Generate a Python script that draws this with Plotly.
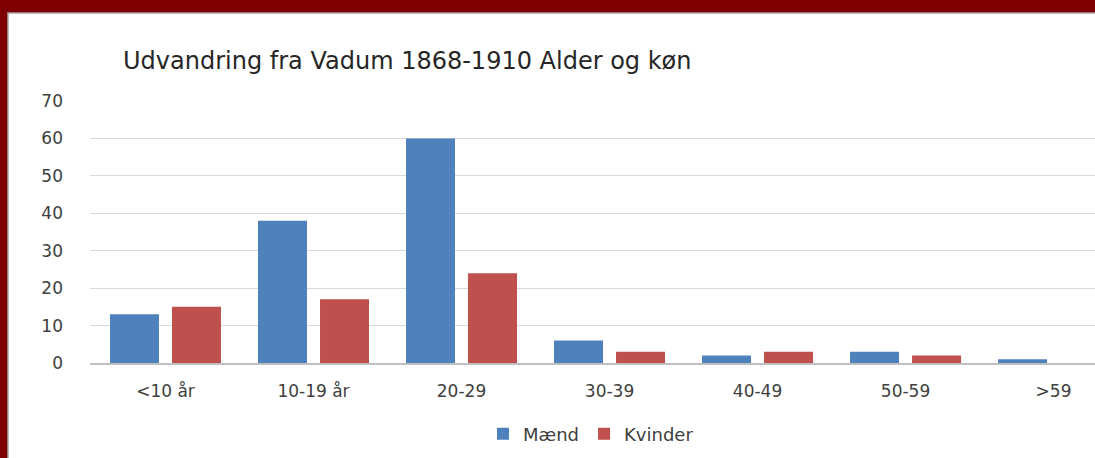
import plotly.graph_objects as go

categories = ["<10 år", "10-19 år", "20-29", "30-39", "40-49", "50-59", ">59"]
maend = [13, 38, 60, 6, 2, 3, 1]
kvinder = [15, 17, 24, 3, 3, 2, 0]
yticks = [0, 10, 20, 30, 40, 50, 60, 70]

FONT = "DejaVu Sans"
TXT = "#404040"

fig = go.Figure()
fig.add_trace(go.Bar(name="Mænd", x=categories, y=maend, marker_color="#4f81bd",
                     marker_line=dict(color="#4f81bd", width=0)))
fig.add_trace(go.Bar(name="Kvinder", x=categories, y=kvinder, marker_color="#c0504d",
                     marker_line=dict(color="#c0504d", width=0)))

W, H = 1095, 458
L, R, T, B = 90, 0, 101, 95
pw, ph = W - L - R, H - T - B

def px_x(p):
    return (p - L) / pw

def px_y(p):
    return (H - B - p) / ph

fig.update_layout(
    width=W, height=H,
    margin=dict(l=L, r=R, t=T, b=B, autoexpand=False),
    paper_bgcolor="#7f0000",
    plot_bgcolor="rgba(0,0,0,0)",
    barmode="group",
    bargap=0.162,
    bargroupgap=0.21,
    font=dict(family=FONT, color=TXT, size=17),
    title=dict(text="Udvandring fra Vadum 1868-1910 Alder og køn",
               x=123 / W, xanchor="left", xref="container",
               y=1 - 61 / H, yanchor="middle", yref="container",
               font=dict(family=FONT, size=24, color="#262626")),
    shapes=[dict(type="rect", xref="paper", yref="paper", layer="below",
                 x0=px_x(8), x1=px_x(W + 5), y0=px_y(H + 5), y1=px_y(13),
                 fillcolor="white", line=dict(color="#a6a6a6", width=1.5))],
    legend=dict(orientation="h", x=px_x(591), xanchor="center", y=px_y(434), yanchor="middle",
                font=dict(family=FONT, size=18, color=TXT), itemwidth=30,
                bgcolor="rgba(0,0,0,0)"),
    showlegend=True,
)
fig.update_yaxes(range=[0, 70], tickvals=yticks, showgrid=True, gridcolor="#d9d9d9",
                 gridwidth=1.2, zeroline=False, showline=False, ticks="",
                 ticklabelstandoff=26, tickfont=dict(size=17, color=TXT))
fig.update_xaxes(range=[-0.51, 6.28], showline=True, linecolor="#bfbfbf", linewidth=1.5,
                 ticks="", ticklabelstandoff=12, tickfont=dict(size=17, color=TXT))

fig.write_html("out.html", config={"displayModeBar": False},
               post_script="document.body.style.margin='0';document.body.style.overflow='hidden';")
